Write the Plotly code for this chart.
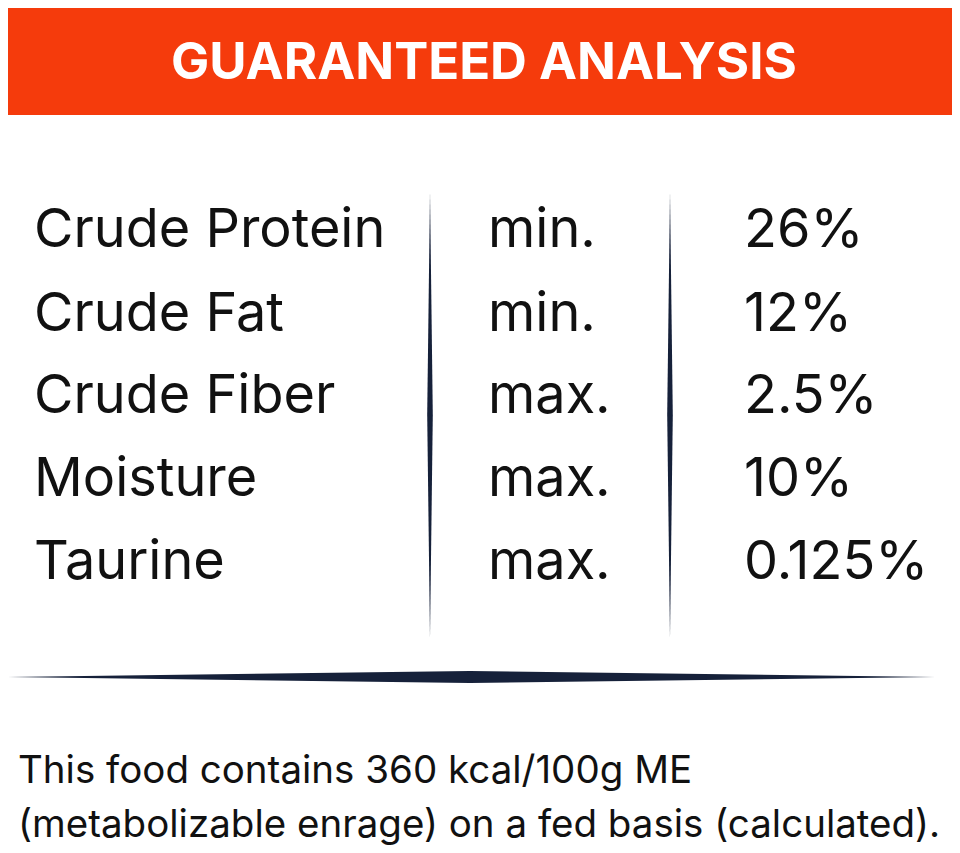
import plotly.graph_objects as go

title = "GUARANTEED ANALYSIS"
nutrients = ["Crude Protein", "Crude Fat", "Crude Fiber", "Moisture", "Taurine"]
qualifiers = ["min.", "min.", "max.", "max.", "max."]
values = ["26%", "12%", "2.5%", "10%", "0.125%"]
footer = ["This food contains 360 kcal/100g ME",
          "(metabolizable enrage) on a fed basis (calculated)."]

W, H = 960, 853
OFF = 8  # page body margin compensation
row_y = [233, 317, 399, 482, 565]
navy = "#16213a"
fnt = "Inter"

fig = go.Figure()
for xs, texts in [(34, nutrients), (488, qualifiers), (744, values)]:
    fig.add_trace(go.Scatter(x=[xs]*len(texts), y=row_y, mode="text", text=texts,
                             textposition="middle right",
                             textfont=dict(family=fnt, size=54, color="#111111"),
                             hoverinfo="skip", showlegend=False))
fig.add_trace(go.Scatter(x=[18, 18], y=[773, 827], mode="text", text=footer,
                         textposition="middle right",
                         textfont=dict(family=fnt, size=38.5, color="#111111"),
                         hoverinfo="skip", showlegend=False))

shapes = [dict(type="rect", x0=0, x1=955, y0=5, y1=115, fillcolor="#F53B0C", line_width=0, layer="below")]
for xc in [430, 670]:
    shapes.append(dict(type="path", path=f"M {xc},192 L {xc+2.8},415 L {xc},638 L {xc-2.8},415 Z",
                       fillcolor=navy, line_width=0))
shapes.append(dict(type="path", path="M 8,677 L 470,671 L 935,677 L 470,683 Z",
                   fillcolor=navy, line_width=0))

fig.update_layout(
    width=W, height=H, margin=dict(l=0, r=0, t=0, b=0),
    plot_bgcolor="white", paper_bgcolor="white",
    xaxis=dict(range=[OFF, W + OFF], visible=False, fixedrange=True),
    yaxis=dict(range=[H + OFF, OFF], visible=False, fixedrange=True),
    shapes=shapes,
    annotations=[dict(x=484, y=60, xref="x", yref="y", text=f"<b>{title}</b>", showarrow=False,
                      font=dict(family=fnt, size=51, color="white"))],
)
fig.write_html("out.html")
